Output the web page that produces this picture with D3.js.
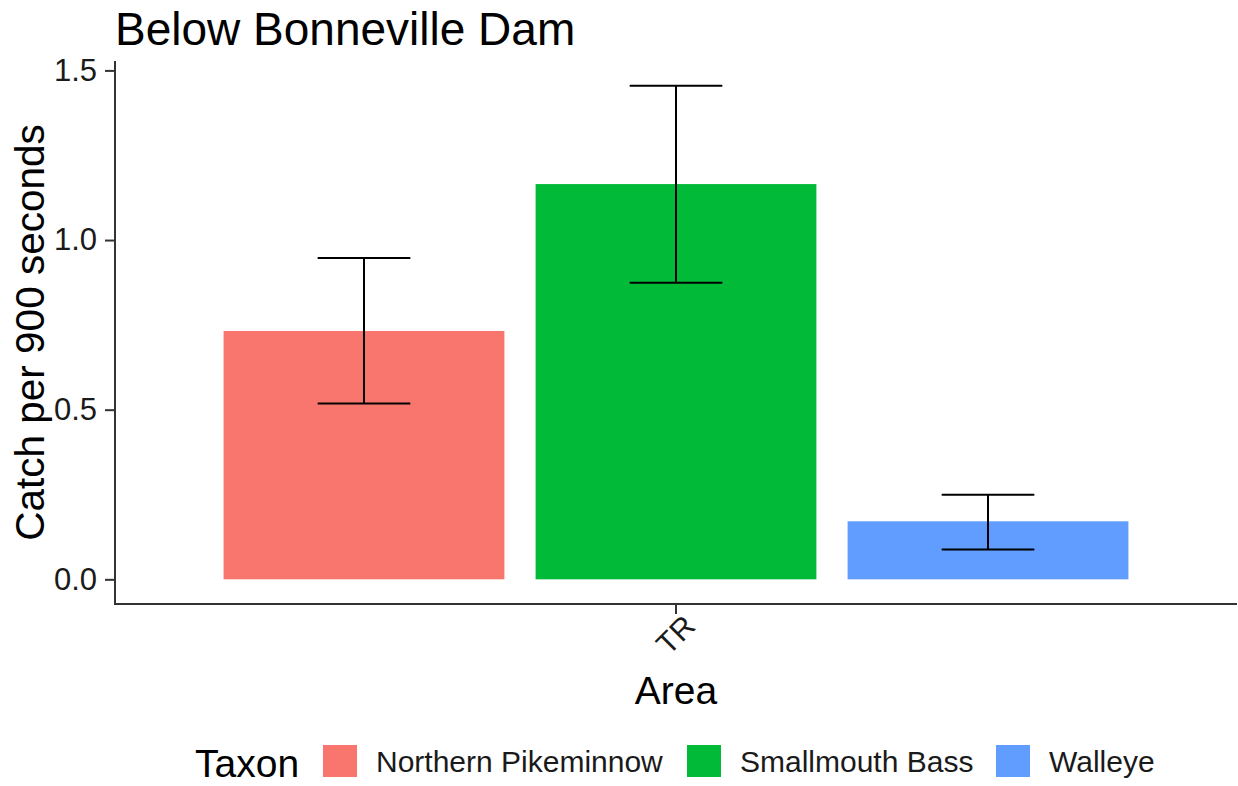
<!DOCTYPE html>
<html>
<head>
<meta charset="utf-8">
<script src="https://cdn.jsdelivr.net/npm/d3@7"></script>
<style>
  body { margin: 0; background: #fff; }
  svg { display: block; font-family: 'Liberation Sans', Arial, sans-serif; }
</style>
</head>
<body>
<div id="chart"></div>
<script>
'use strict';

//data
const areas = ['TR'];
const taxa = ['Northern Pikeminnow', 'Smallmouth Bass', 'Walleye'];
const catchMeans = [0.732, 1.165, 0.171];
const errLow = [0.518, 0.874, 0.088];
const errHigh = [0.947, 1.455, 0.249];
const yTicks = [0, 0.5, 1.0, 1.5];
const taxonColors = ['#F8766D', '#00BA38', '#619CFF'];

let width = 1238;
let height = 786;

//panel box, the rest is labels and legend (window.top is taken, so panel* names)
let panelLeft = 115;
let panelRight = 1237;
let panelTop = 61;
let panelBottom = 604;

let svg = d3.select('#chart')
  .append('svg')
  .attr('width', width)
  .attr('height', height);

//ggplot style 5% padding on the y range
let yMax = d3.max(errHigh);
let pad = yMax * 0.05;
let yScale = d3.scaleLinear()
  .domain([-pad, yMax + pad])
  .range([panelBottom, panelTop]);

//outer band for the area, inner band for the taxa (dodged bars)
let xScale = d3.scaleBand()
  .domain(areas)
  .range([panelLeft, panelRight])
  .paddingInner(0)
  .paddingOuter(0.12);

let xInner = d3.scaleBand()
  .domain(taxa)
  .range([0, xScale.bandwidth()])
  .paddingInner(0.1)
  .paddingOuter(0);

let colorScale = d3.scaleOrdinal().domain(taxa).range(taxonColors);

let rows = taxa.map((t, i) => ({
  area: areas[0],
  taxon: t,
  mean: catchMeans[i],
  lo: errLow[i],
  hi: errHigh[i]
}));

//BARS==================================================
svg.append('g')
  .selectAll('rect')
  .data(rows)
  .enter()
  .append('rect')
  .attr('x', d => xScale(d.area) + xInner(d.taxon))
  .attr('width', xInner.bandwidth())
  .attr('y', d => yScale(d.mean))
  .attr('height', d => yScale(0) - yScale(d.mean))
  .attr('fill', d => colorScale(d.taxon));

//ERROR BARS============================================
let errG = svg.append('g')
  .attr('stroke', '#000')
  .attr('stroke-width', 2)
  .attr('fill', 'none');

let capW = xInner.bandwidth() * 0.33;

rows.forEach(d => {
  let cx = xScale(d.area) + xInner(d.taxon) + xInner.bandwidth() / 2;
  errG.append('line')
    .attr('x1', cx).attr('x2', cx)
    .attr('y1', yScale(d.lo)).attr('y2', yScale(d.hi));
  errG.append('line')
    .attr('x1', cx - capW / 2).attr('x2', cx + capW / 2)
    .attr('y1', yScale(d.hi)).attr('y2', yScale(d.hi));
  errG.append('line')
    .attr('x1', cx - capW / 2).attr('x2', cx + capW / 2)
    .attr('y1', yScale(d.lo)).attr('y2', yScale(d.lo));
});

//AXES==================================================
let yAxis = d3.axisLeft(yScale)
  .tickValues(yTicks)
  .tickFormat(d3.format('.1f'))
  .tickSize(10)
  .tickPadding(8);

let yG = svg.append('g')
  .attr('transform', `translate(${panelLeft}, 0)`)
  .call(yAxis);

let xAxis = d3.axisBottom(xScale)
  .tickSize(10)
  .tickPadding(6);

let xG = svg.append('g')
  .attr('transform', `translate(0, ${panelBottom})`)
  .call(xAxis);

//draw the domain lines ourselves so they stop at the panel edges
yG.select('.domain').remove();
xG.select('.domain').remove();

svg.append('line')
  .attr('x1', panelLeft).attr('x2', panelLeft)
  .attr('y1', panelTop).attr('y2', panelBottom + 1)
  .attr('stroke', '#333').attr('stroke-width', 2);
svg.append('line')
  .attr('x1', panelLeft - 1).attr('x2', panelRight)
  .attr('y1', panelBottom).attr('y2', panelBottom)
  .attr('stroke', '#333').attr('stroke-width', 2);

svg.selectAll('.tick line')
  .attr('stroke', '#333')
  .attr('stroke-width', 2);

yG.selectAll('.tick text')
  .attr('font-size', 31)
  .attr('font-family', 'Liberation Sans, Arial, sans-serif')
  .attr('fill', '#1a1a1a');

//rotated area label
xG.selectAll('.tick text')
  .attr('font-size', 30)
  .attr('font-family', 'Liberation Sans, Arial, sans-serif')
  .attr('fill', '#1a1a1a')
  .attr('text-anchor', 'end')
  .attr('dy', null)
  .attr('y', 0)
  .attr('transform', 'translate(21, 24) rotate(-45)');

//TITLES================================================
svg.append('text')
  .attr('x', panelLeft)
  .attr('y', 45)
  .attr('font-size', 46)
  .attr('fill', '#000')
  .text('Below Bonneville Dam');

svg.append('text')
  .attr('transform', `translate(44, ${(panelTop + panelBottom) / 2}) rotate(-90)`)
  .attr('text-anchor', 'middle')
  .attr('font-size', 40.5)
  .attr('fill', '#000')
  .text('Catch per 900 seconds');

svg.append('text')
  .attr('x', xScale('TR') + xScale.bandwidth() / 2)
  .attr('y', 704)
  .attr('text-anchor', 'middle')
  .attr('font-size', 39)
  .attr('fill', '#000')
  .text('Area');

//LEGEND================================================
let legend = svg.append('g');

legend.append('text')
  .attr('x', 195)
  .attr('y', 777)
  .attr('font-size', 39)
  .attr('fill', '#000')
  .text('Taxon');

let keyX = [323, 687, 996];

taxa.forEach((t, i) => {
  legend.append('rect')
    .attr('x', keyX[i])
    .attr('y', 745)
    .attr('width', 34)
    .attr('height', 32)
    .attr('fill', colorScale(t));
  legend.append('text')
    .attr('x', keyX[i] + 53)
    .attr('y', 772)
    .attr('font-size', 30)
    .attr('fill', '#1a1a1a')
    .text(t);
});
</script>
</body>
</html>
